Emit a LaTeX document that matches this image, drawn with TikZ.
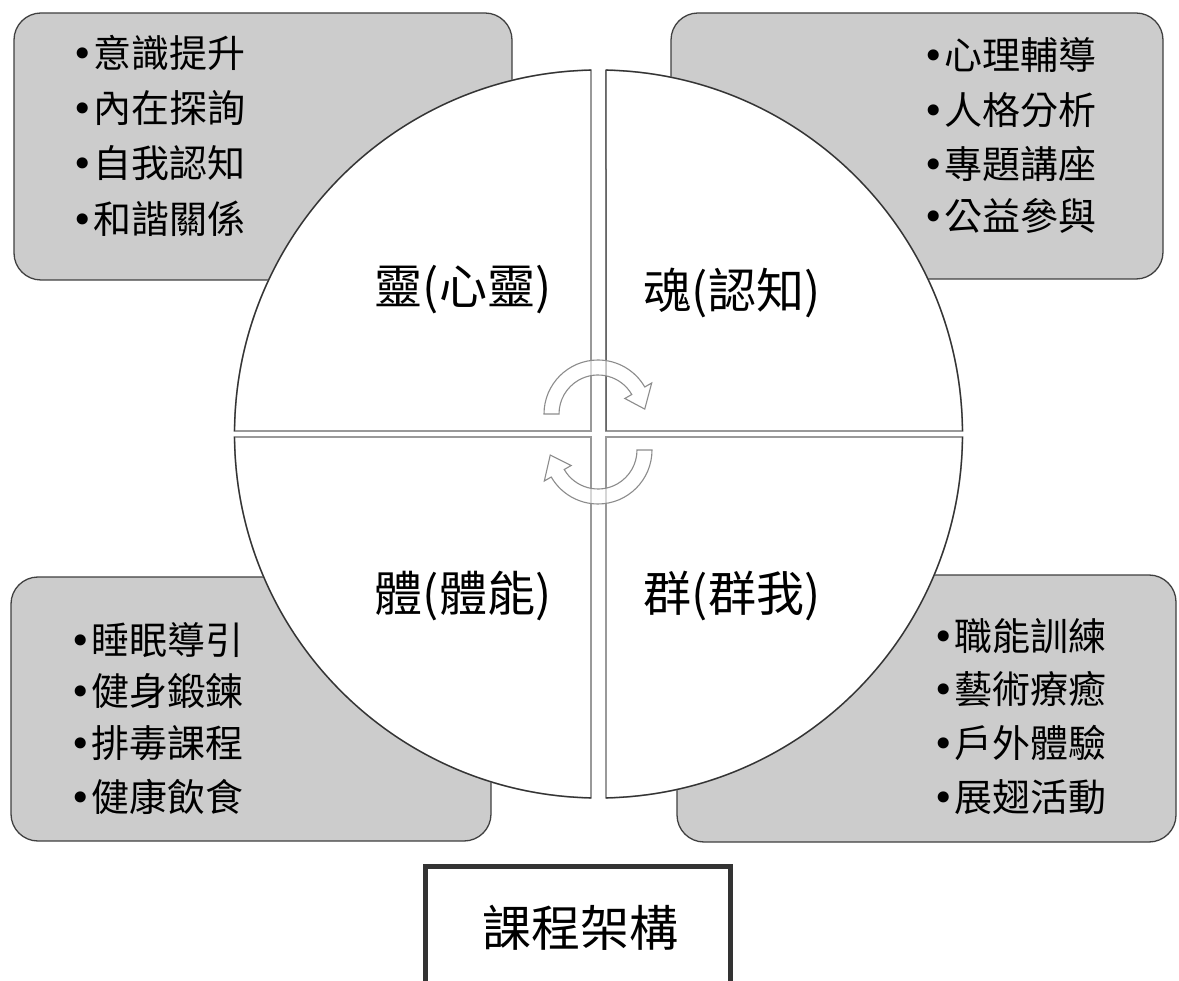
\documentclass[tikz,border=0pt]{standalone}
\usepackage{fontspec}
\setmainfont{Noto Sans CJK TC}
\newfontfamily\bulletfont{DejaVu Sans}
\newcommand{\bul}{{\bulletfont •}}
\begin{document}
\begin{tikzpicture}[x=1pt,y=-1pt,
  panel/.style={draw=black!75, line width=1.3pt, fill=black!20, rounded corners=27pt},
  quadrant/.style={fill=white, draw=black!40, line width=1.6pt},
  rim/.style={draw=black!80, line width=1.3pt},
  listitem/.style={anchor=west, inner sep=0pt, font=\fontsize{38}{40}\selectfont},
  quadlabel/.style={anchor=center, inner sep=0pt, font=\fontsize{48}{50}\selectfont},
  cyclearrow/.style={draw=black!45, line width=1.1pt, fill=white, fill opacity=0.6},
  framebox/.style={draw=black!80, line width=5pt, minimum width=305pt, minimum height=250pt, inner sep=0pt}
]
\path[fill=white] (0,0) rectangle (1179,981);
\useasboundingbox (0,0) rectangle (1179,981);

% corner panels
\draw[panel] (14,13) rectangle (512,280);
\draw[panel] (671,13) rectangle (1163,279);
\draw[panel] (11,577) rectangle (491,841);
\draw[panel] (677,575) rectangle (1176,842);

% circle quadrants
\begin{scope}[shift={(598.5,434)}]
  \draw[quadrant] (-7.5,-3) -- (268.82:364) arc[start angle=268.82,end angle=180.47,radius=364] -- cycle;
  \draw[quadrant] (7.5,-3) -- (271.18:364) arc[start angle=271.18,end angle=359.53,radius=364] -- cycle;
  \draw[quadrant] (7.5,3) -- (0.47:364) arc[start angle=0.47,end angle=88.82,radius=364] -- cycle;
  \draw[quadrant] (-7.5,3) -- (91.18:364) arc[start angle=91.18,end angle=179.53,radius=364] -- cycle;
  \draw[rim] (268.82:364) arc[start angle=268.82,end angle=180.47,radius=364];
  \draw[rim] (271.18:364) arc[start angle=271.18,end angle=359.53,radius=364];
  \draw[rim] (0.47:364) arc[start angle=0.47,end angle=88.82,radius=364];
  \draw[rim] (91.18:364) arc[start angle=91.18,end angle=179.53,radius=364];
  \draw[rim, draw=black!70, line width=1pt] (7.5,-3) -- (271.18:364);
\end{scope}

% cycle arrows
\draw[cyclearrow, shift={(598,414)}] (180:54) arc[start angle=180,end angle=330,radius=54]
  -- (330:62) -- (354:47) -- (330:31) -- (330:39) arc[start angle=330,end angle=180,radius=39] -- cycle;
\draw[cyclearrow, shift={(598,450)}] (0:54) arc[start angle=0,end angle=150,radius=54]
  -- (150:62) -- (174:48) -- (150:31) -- (150:39) arc[start angle=150,end angle=0,radius=39] -- cycle;

% quadrant labels
\node[quadlabel] (q1) at (463,290) {靈(心靈)};
\node[quadlabel] (q2) at (732,293) {魂(認知)};
\node[quadlabel] (q3) at (463,596) {體(體能)};
\node[quadlabel] (q4) at (732,596) {群(群我)};

% lists
\node[listitem] (tl1) at (71,53) {\bul 意識提升};
\node[listitem] (tl2) at (71,108) {\bul 內在探詢};
\node[listitem] (tl3) at (71,163) {\bul 自我認知};
\node[listitem] (tl4) at (71,219) {\bul 和諧關係};

\node[listitem] (tr1) at (922,55) {\bul 心理輔導};
\node[listitem] (tr2) at (922,110) {\bul 人格分析};
\node[listitem] (tr3) at (922,164) {\bul 專題講座};
\node[listitem] (tr4) at (922,216) {\bul 公益參與};

\node[listitem] (bl1) at (69,640) {\bul 睡眠導引};
\node[listitem] (bl2) at (69,691) {\bul 健身鍛鍊};
\node[listitem] (bl3) at (69,743) {\bul 排毒課程};
\node[listitem] (bl4) at (69,797) {\bul 健康飲食};

\node[listitem] (br1) at (932,636) {\bul 職能訓練};
\node[listitem] (br2) at (932,689) {\bul 藝術療癒};
\node[listitem] (br3) at (932,743) {\bul 戶外體驗};
\node[listitem] (br4) at (932,797) {\bul 展翅活動};

% title box
\node[framebox] (frame) at (578,991.5) {};
\node[inner sep=0pt, font=\fontsize{49}{52}\selectfont] (title) at (580,928) {課程架構};
\end{tikzpicture}
\end{document}
